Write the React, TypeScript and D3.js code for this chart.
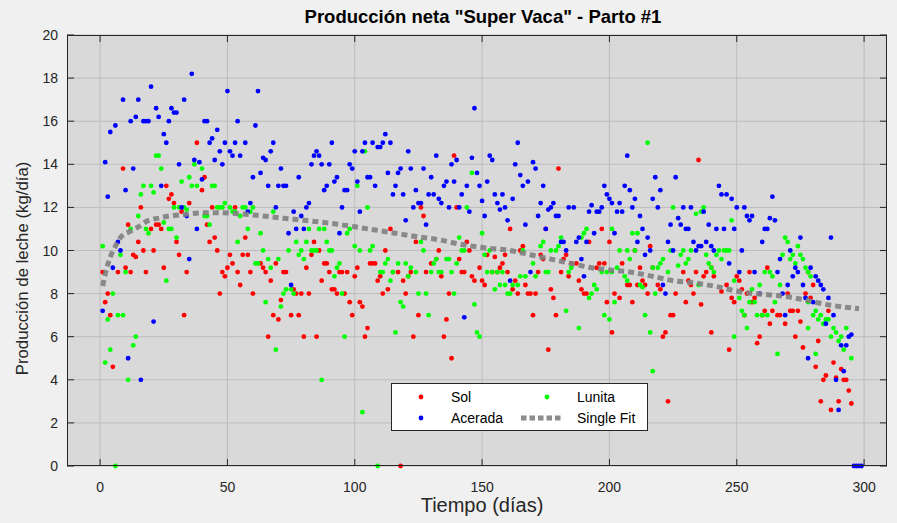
import React, { useEffect, useRef } from "react";
import * as d3 from "d3";

// [day, kg/day]
const sol: [number, number][] = [
  [1,9.0],[2,7.6],[3,8.0],[4,7.0],[5,4.6],[7,9.0],[9,13.8],[10,9.2],[11,11.2],[12,9.0],[13,9.8],[14,9.7],[15,10.4],
  [16,12.0],[17,10.0],[18,9.0],[20,11.0],[21,10.0],[22,11.2],[23,11.2],[24,11.0],[25,9.2],[26,13.0],[27,12.4],[28,12.6],
  [29,12.2],[30,10.4],[31,9.8],[32,11.8],[33,7.0],[34,9.0],[35,12.2],[38,15.0],[40,12.8],[41,13.4],[42,11.2],[43,10.4],
  [44,12.0],[45,10.6],[46,10.0],[47,8.0],[48,9.0],[49,8.8],[50,9.2],[51,9.8],[52,9.4],[53,12.0],[54,9.0],[55,8.4],
  [56,9.8],[57,10.6],[58,9.8],[59,9.0],[60,8.0],[63,9.4],[64,9.2],[65,9.0],[66,6.0],[67,8.6],[68,7.0],[69,9.4],
  [70,6.8],[71,7.7],[72,9.0],[73,9.0],[75,7.0],[76,8.2],[77,8.0],[78,7.0],[79,8.0],[80,6.0],[81,9.2],[82,8.0],
  [83,9.8],[84,10.4],[85,6.0],[86,10.0],[87,8.6],[88,9.4],[89,9.4],[90,9.0],[91,8.2],[92,8.2],[93,8.0],[94,9.0],
  [95,9.0],[96,8.0],[97,9.0],[98,7.6],[99,7.0],[100,8.8],[101,9.2],[102,7.6],[103,7.4],[104,6.0],[105,6.4],[106,9.4],
  [107,9.4],[108,9.4],[109,8.6],[110,8.8],[111,8.0],[112,10.0],[113,8.2],[114,11.0],[115,9.0],[117,9.0],[118,0],
  [119,8.6],[120,8.0],[121,8.8],[122,9.0],[123,6.0],[124,10.4],[125,7.0],[126,12.0],[127,11.6],[128,9.0],[130,9.4],
  [132,9.6],[133,10.0],[134,8.8],[135,6.0],[136,6.8],[137,8.0],[138,5.0],[139,14.4],[140,12.0],[141,9.6],[142,9.0],
  [143,9.0],[144,10.4],[145,10.0],[146,8.8],[147,8.6],[149,9.2],[150,8.6],[151,8.4],[152,9.8],[154,9.0],[155,9.7],
  [156,9.0],[157,9.2],[158,9.4],[159,9.8],[160,9.0],[161,11.0],[162,8.2],[163,8.6],[164,8.0],[165,10.0],[166,10.2],
  [167,8.4],[168,8.0],[169,8.0],[170,7.0],[171,8.0],[172,9.0],[173,9.8],[174,9.6],[175,11.0],[176,5.4],[177,8.2],
  [178,7.8],[179,7.0],[180,13.8],[181,9.0],[182,9.6],[183,9.8],[184,8.8],[185,9.4],[187,9.4],[188,8.6],[189,8.2],
  [190,8.0],[191,8.0],[192,10.4],[195,9.2],[196,9.4],[197,11.0],[198,9.4],[199,7.6],[200,10.4],[201,6.2],[202,8.0],
  [204,7.8],[205,9.4],[207,8.4],[208,8.4],[209,7.6],[210,10.0],[211,8.4],[212,9.2],[213,8.6],[214,8.4],[215,8.0],
  [216,10.2],[217,9.2],[219,8.4],[220,8.2],[221,6.0],[222,6.2],[223,3.0],[224,7.0],[225,7.0],[226,8.0],[229,9.0],
  [230,7.6],[231,8.6],[232,8.4],[233,8.0],[234,9.0],[235,14.2],[236,7.5],[237,8.8],[238,9.0],[240,9.2],[240,6.2],
  [241,8.8],[244,8.1],[246,8.4],[247,5.4],[248,7.8],[249,7.6],[250,8.8],[251,8.6],[252,8.2],[253,7.0],[254,8.0],
  [255,9.0],[256,7.6],[257,7.8],[258,5.7],[259,6.0],[260,7.0],[261,7.2],[262,9.2],[263,6.6],[264,7.2],[266,7.0],
  [267,7.0],[269,6.6],[270,8.0],[271,7.2],[272,7.2],[273,6.0],[274,7.2],[275,6.7],[276,5.5],[277,8.0],[278,9.0],
  [279,7.8],[280,8.4],[281,4.6],[282,5.8],[283,3.0],[284,4.0],[285,4.2],[286,7.2],[287,2.6],[288,4.8],[289,4.1],
  [290,3.0],[291,4.5],[292,4.0],[293,4.0],[294,3.5],[295,2.9],
];

const lunita: [number, number][] = [
  [1,10.2],[2,4.8],[3,6.8],[4,5.4],[5,8.0],[6,0],[7,7.0],[8,9.8],[9,7.0],[10,9.0],[11,4.0],[12,11.0],[13,5.6],
  [14,6.0],[15,11.6],[16,12.6],[17,13.0],[18,11.0],[19,10.8],[20,13.0],[21,12.7],[22,14.4],[23,14.4],[24,13.8],
  [25,11.3],[26,8.6],[27,11.0],[28,11.0],[29,12.0],[30,10.6],[31,12.0],[32,13.2],[33,12.0],[34,11.9],[35,13.4],
  [36,13.0],[37,14.0],[38,13.0],[40,13.8],[41,11.6],[42,11.6],[43,11.2],[44,13.0],[45,13.0],[46,12.0],[47,12.0],
  [48,12.0],[49,12.2],[51,12.0],[52,11.8],[53,11.8],[54,10.4],[55,11.6],[56,12.0],[57,12.0],[58,11.0],[59,11.8],
  [60,12.0],[61,9.4],[62,9.4],[63,10.8],[64,10.0],[65,7.6],[66,9.6],[67,9.2],[68,11.8],[69,5.4],[70,9.6],[71,7.4],
  [72,8.0],[73,8.2],[74,10.0],[75,8.2],[76,8.0],[77,10.4],[78,9.8],[79,10.0],[80,9.6],[81,10.4],[82,11.0],[83,10.0],
  [84,10.0],[85,10.0],[86,11.0],[87,4.0],[88,11.0],[89,10.4],[90,10.0],[91,10.0],[92,8.8],[93,9.2],[94,9.4],
  [95,8.0],[96,6.0],[97,10.8],[98,11.0],[100,10.2],[101,13.0],[102,10.0],[103,2.5],[104,14.6],[105,12.0],[106,10.0],
  [107,10.2],[109,0],[110,9.0],[111,9.0],[112,9.4],[113,9.6],[114,8.6],[115,9.0],[116,6.2],[117,9.4],[118,7.6],
  [119,7.4],[120,9.4],[121,8.8],[122,9.2],[124,9.0],[125,8.0],[126,10.4],[127,10.0],[128,8.0],[129,7.0],[130,9.0],
  [131,9.4],[132,9.6],[133,9.0],[134,9.0],[136,9.6],[137,9.6],[138,9.0],[139,8.0],[140,9.4],[141,10.6],[142,10.0],
  [143,10.0],[144,12.0],[146,13.6],[147,7.5],[148,6.2],[149,6.0],[150,10.8],[151,9.8],[152,9.0],[153,10.0],[154,9.0],
  [155,8.2],[156,9.0],[157,8.4],[158,9.0],[159,8.4],[160,8.0],[161,8.0],[162,8.4],[164,8.4],[165,8.8],[166,10.0],
  [167,8.8],[170,9.4],[171,8.8],[173,10.2],[174,10.4],[175,9.0],[176,9.0],[177,10.0],[179,10.0],[180,10.2],
  [181,10.6],[183,7.2],[184,9.0],[185,9.2],[188,6.4],[189,10.6],[190,10.8],[191,11.0],[192,7.8],[193,8.0],[194,8.4],
  [195,8.2],[197,9.0],[198,7.0],[199,9.0],[200,6.8],[201,11.0],[201,9.0],[202,7.6],[203,9.2],[204,10.0],[206,8.8],
  [207,10.0],[207,8.6],[208,9.6],[209,10.8],[210,10.0],[211,10.8],[212,8.4],[213,8.3],[214,7.0],[215,15.0],[216,6.2],
  [217,4.4],[217,9.2],[218,8.0],[219,9.2],[220,9.4],[221,9.6],[223,9.0],[224,10.0],[225,12.0],[227,9.3],[228,9.8],
  [229,10.0],[230,9.4],[231,9.6],[232,10.0],[234,11.7],[235,8.4],[236,11.8],[237,12.0],[238,9.8],[239,9.4],
  [240,9.2],[241,9.0],[242,9.8],[243,10.0],[244,9.6],[245,10.0],[246,10.0],[247,10.0],[248,11.4],[249,8.6],[249,6.0],
  [251,7.8],[252,7.2],[253,7.0],[254,6.4],[255,7.6],[256,8.2],[257,7.6],[258,7.0],[259,8.4],[260,7.0],[261,9.0],
  [262,7.0],[263,9.0],[264,8.8],[265,7.6],[266,5.2],[267,8.4],[268,9.8],[269,10.6],[270,10.4],[271,9.6],[272,9.8],
  [273,9.4],[274,10.2],[275,9.8],[276,9.6],[277,9.2],[278,9.0],[278,7.6],[278,6.4],[279,8.8],[280,7.0],[281,7.2],
  [281,5.2],[282,6.8],[283,7.0],[284,6.6],[285,6.8],[286,6.8],[287,6.0],[288,6.4],[289,6.2],[290,5.8],[291,6.0],
  [292,5.4],[293,6.4],[295,5.0],
];

const acerada: [number, number][] = [
  [1,7.2],[2,14.1],[3,12.5],[4,15.5],[5,9.2],[6,15.8],[7,10.4],[8,10.0],[9,17.0],[10,12.8],[11,5.0],[12,16.0],
  [13,13.8],[14,16.2],[15,17.0],[16,4.0],[17,16.0],[18,16.0],[19,16.0],[20,17.6],[21,6.7],[22,16.6],[23,16.2],
  [24,13.0],[25,15.4],[26,15.0],[27,16.0],[28,16.6],[29,16.4],[30,16.4],[31,14.0],[32,12.0],[33,17.0],[34,11.6],
  [35,9.6],[36,18.2],[37,14.2],[38,11.0],[39,14.1],[40,13.3],[41,16.0],[42,16.0],[43,15.0],[44,15.2],[45,14.2],
  [46,15.6],[47,14.6],[48,14.0],[49,15.0],[50,17.4],[51,14.6],[52,14.4],[53,15.0],[54,16.0],[55,14.4],[57,15.0],
  [58,11.8],[59,12.2],[60,13.4],[61,15.8],[62,17.4],[63,13.6],[64,14.3],[65,14.2],[66,13.0],[67,14.6],[68,15.0],
  [69,12.0],[70,13.0],[71,13.8],[72,13.0],[73,13.0],[74,10.8],[75,8.4],[76,11.8],[77,11.0],[78,13.4],[79,11.6],
  [80,11.0],[81,12.0],[82,12.2],[83,14.0],[84,14.4],[85,14.6],[86,14.4],[87,14.0],[88,12.8],[89,13.0],[90,14.0],
  [91,15.0],[92,13.2],[93,13.4],[94,10.8],[95,12.0],[96,12.8],[97,12.8],[98,14.0],[99,13.8],[100,14.6],[101,13.2],
  [102,11.8],[103,14.6],[104,15.0],[105,13.4],[106,13.4],[107,15.0],[108,13.0],[109,14.8],[110,14.8],[111,15.0],
  [112,15.4],[113,13.6],[114,15.0],[115,12.6],[116,13.0],[117,13.6],[118,13.8],[119,12.6],[120,11.4],[121,14.6],
  [122,13.8],[123,12.0],[124,12.8],[125,12.2],[126,12.2],[127,13.8],[128,11.2],[129,12.6],[130,13.4],[131,12.6],
  [132,14.4],[133,12.4],[134,12.2],[135,13.0],[136,13.2],[137,12.0],[138,14.0],[139,13.2],[140,14.2],[141,12.0],
  [142,12.6],[143,6.9],[144,13.0],[145,11.8],[146,14.3],[147,16.6],[148,13.6],[149,13.0],[150,12.3],[151,11.6],
  [152,13.2],[153,14.4],[154,14.2],[155,12.6],[156,12.2],[157,11.9],[158,12.6],[159,12.0],[160,11.4],[161,8.6],
  [162,12.4],[163,14.0],[164,15.0],[165,13.5],[166,13.0],[167,11.2],[168,13.2],[169,9.0],[170,14.1],[171,13.8],
  [172,11.6],[173,12.2],[174,13.0],[175,11.0],[176,11.9],[177,12.0],[178,12.2],[179,11.6],[180,11.6],[181,10.4],
  [182,10.4],[183,10.0],[184,12.0],[186,12.0],[187,10.4],[188,10.6],[189,9.6],[190,8.8],[191,10.4],[192,11.8],
  [193,12.1],[194,10.8],[195,11.8],[196,11.8],[197,12.0],[198,13.0],[199,12.6],[200,12.4],[201,12.2],[202,10.8],
  [203,11.8],[204,12.2],[205,11.8],[206,13.0],[207,14.4],[208,12.8],[209,12.0],[210,12.4],[211,10.4],[212,11.6],
  [213,11.0],[214,9.8],[215,10.6],[216,10.0],[217,12.4],[218,13.4],[219,12.0],[220,12.8],[221,8.4],[222,8.0],
  [223,10.4],[224,11.2],[225,10.0],[226,13.4],[227,11.5],[228,11.2],[229,12.0],[230,11.0],[231,11.0],[232,12.0],
  [233,10.4],[234,10.0],[235,10.2],[236,10.2],[237,11.8],[238,10.4],[239,11.2],[240,10.2],[241,10.0],[242,11.0],
  [243,13.0],[244,12.6],[245,11.0],[246,12.6],[247,9.4],[248,12.4],[249,11.0],[250,12.0],[251,9.0],[252,10.0],
  [253,12.0],[254,11.6],[255,11.4],[256,11.6],[257,9.0],[259,8.0],[260,10.4],[261,11.0],[262,11.0],[263,11.5],
  [264,12.5],[265,11.4],[266,9.0],[267,9.6],[268,8.0],[269,7.0],[270,8.4],[271,10.0],[272,8.8],[273,9.2],[274,9.0],
  [275,10.6],[276,8.4],[277,7.8],[278,5.0],[279,9.2],[280,7.6],[281,8.8],[282,8.6],[283,8.4],[284,8.2],[285,6.6],
  [286,7.8],[287,10.6],[288,7.0],[289,4.0],[290,2.6],[291,5.6],[292,4.4],[293,5.6],[294,6.0],[295,6.1],[296,0],
  [297,0],[298,0],[299,0],
];

// fitted curve
const singleFit: [number, number][] = [
  [1,8.35],[2,8.9],[4,9.7],[6,10.2],[8,10.6],[12,10.9],[15,11.1],[19,11.4],[23,11.5],[27,11.6],[31,11.65],[35,11.7],
  [40,11.75],[47,11.75],[55,11.7],[64,11.6],[72,11.5],[80,11.4],[88,11.3],[100,11.1],[108,10.95],[116,10.8],
  [124,10.65],[133,10.5],[141,10.3],[153,10.1],[161,10.0],[169,9.8],[177,9.6],[185,9.4],[193,9.2],[200,9.1],
  [208,9.0],[217,8.8],[225,8.6],[233,8.5],[241,8.35],[253,8.05],[262,7.95],[270,7.85],[277,7.7],[285,7.5],
  [294,7.35],[298,7.3],
];

const xTicks = [0, 50, 100, 150, 200, 250, 300];
const yTicks = [0, 2, 4, 6, 8, 10, 12, 14, 16, 18, 20];

const legendItems = [
  { label: "Sol", color: "#ff0000", kind: "dot", col: 0, row: 0 },
  { label: "Lunita", color: "#00ff00", kind: "dot", col: 1, row: 0 },
  { label: "Acerada", color: "#0000ff", kind: "dot", col: 0, row: 1 },
  { label: "Single Fit", color: "#808080", kind: "line", col: 1, row: 1 },
];

const W = 897;
const H = 523;
const font = "'Liberation Sans', Arial, Helvetica, sans-serif";

export default function App() {
  const ref = useRef<SVGSVGElement>(null);

  useEffect(() => {
    document.body.style.margin = "0";
    const svg = d3.select(ref.current);
    svg.selectAll("*").remove();

    const left = 67, right = 887, top = 35, bottom = 466;
    const x = d3.scaleLinear().domain([-13, 309]).range([left, right]);
    const y = d3.scaleLinear().domain([0, 20]).range([bottom, top]);

    svg.append("rect").attr("width", W).attr("height", H).attr("fill", "#f0f0f0");
    svg.append("rect")
      .attr("x", left).attr("y", top)
      .attr("width", right - left).attr("height", bottom - top)
      .attr("fill", "#d9d9d9");

    // grid
    const grid = svg.append("g").attr("stroke", "#bcbcbc").attr("stroke-width", 1);
    xTicks.forEach((t) => {
      grid.append("line").attr("x1", x(t)).attr("x2", x(t)).attr("y1", top).attr("y2", bottom);
    });
    yTicks.forEach((t) => {
      grid.append("line").attr("x1", left).attr("x2", right).attr("y1", y(t)).attr("y2", y(t));
    });

    // scatter
    const series: [[number, number][], string][] = [
      [sol, "#ff0000"],
      [lunita, "#00ff00"],
      [acerada, "#0000ff"],
    ];
    series.forEach(([data, color]) => {
      svg.append("g")
        .selectAll("circle")
        .data(data)
        .enter()
        .append("circle")
        .attr("cx", (d) => x(d[0]))
        .attr("cy", (d) => y(d[1]))
        .attr("r", 2.4)
        .attr("fill", color);
    });

    svg.append("path")
      .datum(singleFit)
      .attr("fill", "none")
      .attr("stroke", "#808080")
      .attr("stroke-width", 5)
      .attr("stroke-dasharray", "6 4")
      .attr("opacity", 0.9)
      .attr("d", d3.line<[number, number]>().curve(d3.curveMonotoneX).x((d) => x(d[0])).y((d) => y(d[1])));

    // box + inward ticks
    const ax = svg.append("g").attr("stroke", "#262626").attr("stroke-width", 1).attr("fill", "none");
    ax.append("rect")
      .attr("x", left + 0.5).attr("y", top + 0.5)
      .attr("width", right - left - 1).attr("height", bottom - top - 1);
    xTicks.forEach((t) => {
      ax.append("line").attr("x1", x(t)).attr("x2", x(t)).attr("y1", bottom).attr("y2", bottom - 7);
      ax.append("line").attr("x1", x(t)).attr("x2", x(t)).attr("y1", top).attr("y2", top + 7);
    });
    yTicks.forEach((t) => {
      ax.append("line").attr("x1", left).attr("x2", left + 7).attr("y1", y(t)).attr("y2", y(t));
      ax.append("line").attr("x1", right).attr("x2", right - 7).attr("y1", y(t)).attr("y2", y(t));
    });

    // tick labels
    svg.append("g")
      .selectAll("text")
      .data(xTicks)
      .enter()
      .append("text")
      .attr("x", (d) => x(d))
      .attr("y", bottom + 26)
      .attr("text-anchor", "middle")
      .attr("font-family", font)
      .attr("font-size", 14)
      .attr("fill", "#262626")
      .text((d) => d);
    svg.append("g")
      .selectAll("text")
      .data(yTicks)
      .enter()
      .append("text")
      .attr("x", left - 9)
      .attr("y", (d) => y(d) + 5)
      .attr("text-anchor", "end")
      .attr("font-family", font)
      .attr("font-size", 14)
      .attr("fill", "#262626")
      .text((d) => d);

    // labels
    svg.append("text")
      .attr("x", 483).attr("y", 23)
      .attr("text-anchor", "middle")
      .attr("font-family", font).attr("font-weight", "bold").attr("font-size", 18.5)
      .attr("fill", "#000")
      .text('Producción neta "Super Vaca" - Parto #1');
    svg.append("text")
      .attr("x", 482).attr("y", 512)
      .attr("text-anchor", "middle")
      .attr("font-family", font).attr("font-size", 20)
      .attr("fill", "#262626")
      .text("Tiempo (días)");
    svg.append("text")
      .attr("transform", `translate(28,${(top + bottom) / 2 + 18}) rotate(-90)`)
      .attr("text-anchor", "middle")
      .attr("font-family", font).attr("font-size", 16.8)
      .attr("fill", "#262626")
      .text("Producción de leche (kg/día)");

    // legend
    const lg = svg.append("g").attr("transform", "translate(391,383)");
    lg.append("rect")
      .attr("x", 0.5).attr("y", 0.5).attr("width", 256).attr("height", 47)
      .attr("fill", "#fff").attr("stroke", "#262626");
    legendItems.forEach((it) => {
      const cx = it.col === 0 ? 0 : 126;
      const cy = it.row === 0 ? 14 : 35;
      if (it.kind === "dot") {
        lg.append("circle").attr("cx", cx + 30).attr("cy", cy).attr("r", 2.4).attr("fill", it.color);
      } else {
        lg.append("line")
          .attr("x1", cx + 4).attr("x2", cx + 46).attr("y1", cy).attr("y2", cy)
          .attr("stroke", it.color).attr("stroke-width", 5).attr("stroke-dasharray", "5.5 3").attr("opacity", 0.9);
      }
      lg.append("text")
        .attr("x", cx + 60).attr("y", cy + 5)
        .attr("font-family", font).attr("font-size", 14).attr("fill", "#000")
        .text(it.label);
    });
  }, []);

  return <svg ref={ref} width={W} height={H} style={{ display: "block" }} />;
}
